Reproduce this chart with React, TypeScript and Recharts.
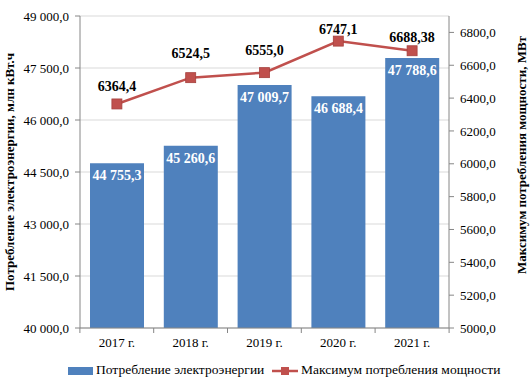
import { ComposedChart, Bar, Line, XAxis, YAxis, CartesianGrid, Legend, LabelList } from 'recharts';

const years = ['2017 г.', '2018 г.', '2019 г.', '2020 г.', '2021 г.'];
const energy = [44755.3, 45260.6, 47009.7, 46688.4, 47788.6];
const peakPower = [6364.4, 6524.5, 6555.0, 6747.1, 6688.38];
const leftTicks = [40000, 41500, 43000, 44500, 46000, 47500, 49000];
const rightTicks = [5000, 5200, 5400, 5600, 5800, 6000, 6200, 6400, 6600, 6800];

// how far each line label sits above its marker (hand-placed in the original)
const lineLabelLift = [16, 23, 21, 10, 12];

const BLUE = '#4F81BD';
const RED = '#C0504D';
const FONT = '"Liberation Serif", "Times New Roman", serif';

const data = years.map((year, i) => ({ year, energy: energy[i], peak: peakPower[i] }));

const fmtSpaced = (v: number) => {
  const [int, dec] = v.toFixed(1).split('.');
  return int.replace(/\B(?=(\d{3})+(?!\d))/g, ' ') + ',' + dec;
};
const fmtPlain = (v: number) => (Number.isInteger(v) ? v + ',0' : String(v).replace('.', ','));

const BottomTick = (props: any) => {
  const { x, y, payload, index } = props;
  const step = 370 / years.length;
  return (
    <g>
      <line x1={x - step / 2} x2={x - step / 2} y1={y - 8} y2={y - 3} stroke="#868686" />
      {index === years.length - 1 && (
        <line x1={x + step / 2} x2={x + step / 2} y1={y - 8} y2={y - 3} stroke="#868686" />
      )}
      <text x={x} y={y + 11} textAnchor="middle" fontSize={13} fontFamily={FONT} fill="#000">
        {payload.value}
      </text>
    </g>
  );
};

const LineLabel = (props: any) => {
  const { x, y, value, index } = props;
  return (
    <text x={x} y={y - lineLabelLift[index]} textAnchor="middle" dominantBaseline="middle"
      fontSize={14} fontWeight="bold" fontFamily={FONT} fill="#000">
      {fmtPlain(value)}
    </text>
  );
};

const BarLabel = (props: any) => {
  const { x, y, width, value } = props;
  return (
    <text x={x + width / 2} y={y + 14} textAnchor="middle" dominantBaseline="middle"
      fontSize={14} fontWeight="bold" fontFamily={FONT} fill="#fff">
      {fmtSpaced(value)}
    </text>
  );
};

const AxisTitle = ({ x, y, text }: { x: number; y: number; text: string }) => (
  <text x={x} y={y} transform={`rotate(-90 ${x} ${y})`} textAnchor="middle" dominantBaseline="middle"
    fontSize={13} fontWeight="bold" fontFamily={FONT} fill="#000">
    {text}
  </text>
);

const LegendContent = () => (
  <svg width={530} height={30} style={{ display: 'block' }}>
    <rect x={68} y={11} width={25} height={8} fill={BLUE} />
    <text x={96} y={15} dominantBaseline="middle" fontSize={13.5} fontFamily={FONT} fill="#000">
      Потребление электроэнергии
    </text>
    <line x1={272} x2={298} y1={15} y2={15} stroke={RED} strokeWidth={2.5} />
    <rect x={281} y={11} width={8} height={8} fill={RED} />
    <text x={301} y={15} dominantBaseline="middle" fontSize={13.5} fontFamily={FONT} fill="#000">
      Максимум потребления мощности
    </text>
  </svg>
);

export default function App() {
  return (
    <div style={{ position: 'absolute', left: 0, top: 0, background: '#fff' }}>
      <ComposedChart width={530} height={390} data={data}
        margin={{ top: 16, right: 0, left: 0, bottom: 4 }} barCategoryGap={10}>
        <CartesianGrid yAxisId="left" vertical={false} stroke="#D9D9D9" />
        <XAxis dataKey="year" height={28} tickLine={false} stroke="#868686" tick={<BottomTick />} />
        <YAxis yAxisId="left" width={80} domain={[40000, 49000]} ticks={leftTicks}
          tickFormatter={fmtSpaced} stroke="#868686" tickSize={5} tickMargin={6}
          tick={{ fontSize: 13, fontFamily: FONT, fill: '#000' }}
          label={() => <AxisTitle x={11} y={172} text="Потребление электроэнергии, млн кВт.ч" />} />
        <YAxis yAxisId="right" orientation="right" width={81} domain={[5000, 6900]} ticks={rightTicks}
          tickFormatter={fmtPlain} stroke="#868686" tickSize={5} tickMargin={6}
          tick={{ fontSize: 13, fontFamily: FONT, fill: '#000', textAnchor: 'start' }}
          label={() => <AxisTitle x={523} y={155} text="Максимум потребления мощности, МВт" />} />
        <Bar yAxisId="left" dataKey="energy" fill={BLUE} isAnimationActive={false}>
          <LabelList dataKey="energy" content={<BarLabel />} />
        </Bar>
        <Line yAxisId="right" dataKey="peak" stroke={RED} strokeWidth={2.5} isAnimationActive={false}
          dot={(p: any) => (
            <rect key={p.index} x={p.cx - 5} y={p.cy - 5} width={10} height={10} fill={RED} stroke="#A5403D" strokeWidth={0.8} />
          )}>
          <LabelList dataKey="peak" content={<LineLabel />} />
        </Line>
        <Legend verticalAlign="bottom" height={30} content={<LegendContent />} />
      </ComposedChart>
    </div>
  );
}
